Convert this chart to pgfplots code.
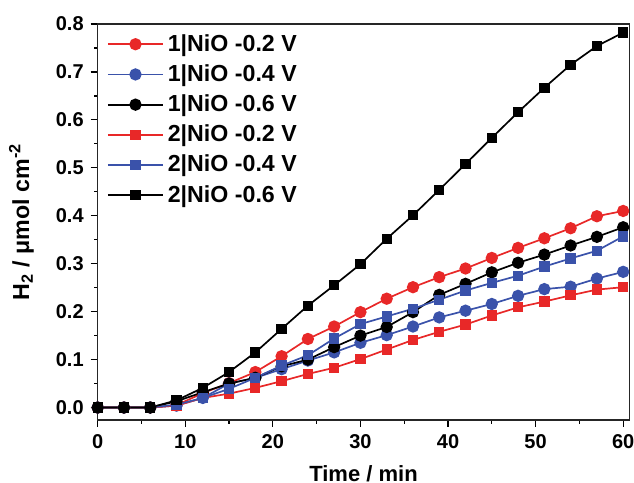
\documentclass[border=0pt]{standalone}
\usepackage{fontspec}
\setmainfont{Liberation Sans}
\usepackage{pgfplots}
\pgfplotsset{compat=1.18}
\definecolor{myred}{RGB}{232,40,40}
\definecolor{myblue}{RGB}{58,82,170}
\begin{document}
\begin{tikzpicture}
\begin{axis}[
    scale only axis,
    width=265.8pt, height=198pt,
    xmin=0, xmax=60.7,
    ymin=-0.026, ymax=0.8,
    xtick={0,10,20,30,40,50,60},
    ytick={0,0.1,0.2,0.3,0.4,0.5,0.6,0.7,0.8},
    minor x tick num=1, minor y tick num=1,
    xtick pos=bottom, ytick pos=left,
    tick align=outside,
    major tick length=3.5pt, minor tick length=1.8pt,
    tick style={line width=0.6pt, black},
    axis line style={line width=0.7pt, black!85},
    /pgf/number format/assume math mode=true,
    yticklabel style={/pgf/number format/fixed, /pgf/number format/fixed zerofill, /pgf/number format/precision=1},
    ticklabel style={font=\bfseries\fontsize{10}{12}\selectfont},
    xlabel={Time / min},
    ylabel={H\textsubscript{2} / μmol cm\textsuperscript{-2}},
    xlabel style={font=\bfseries\fontsize{11}{13}\selectfont, at={(axis description cs:0.5,0)},
        anchor=north, inner sep=0pt, yshift=-22.4pt},
    ylabel style={font=\bfseries\fontsize{11.6}{13}\selectfont, at={(axis description cs:0,0.5)},
        anchor=center, inner sep=0pt, yshift=38.1pt},
    legend style={draw=none, fill=none, at={(axis description cs:0.017,0.985)}, anchor=north west,
        font=\bfseries\fontsize{11.6}{13}\selectfont, row sep=1.2pt, inner sep=0pt},
    legend cell align=left,
    legend image code/.code={\draw[mark repeat=2,mark phase=2,#1] plot coordinates {(0pt,0pt) (13.75pt,0pt) (27.5pt,0pt)};},
    every axis plot/.append style={line width=0.85pt},
]
\addplot[myred, mark=*, mark size=2.65pt, mark options={fill=myred}] coordinates {
(0,0) (3,0) (6,0) (9,0.005) (12,0.03) (15,0.051) (18,0.074) (21,0.107) (24,0.143) (27,0.169) (30,0.199)
(33,0.227) (36,0.251) (39,0.272) (42,0.29) (45,0.312) (48,0.333) (51,0.353) (54,0.374) (57,0.399) (60,0.41)};
\addlegendentry{1|NiO -0.2 V}
\addplot[myblue, mark=*, mark size=2.65pt, mark options={fill=myblue}] coordinates {
(0,0) (3,0) (6,0) (9,0.004) (12,0.02) (15,0.05) (18,0.062) (21,0.08) (24,0.098) (27,0.115) (30,0.135)
(33,0.151) (36,0.169) (39,0.188) (42,0.202) (45,0.216) (48,0.233) (51,0.247) (54,0.252) (57,0.269) (60,0.283)};
\addlegendentry{1|NiO -0.4 V}
\addplot[black, mark=*, mark size=2.65pt, mark options={fill=black}] coordinates {
(0,0) (3,0) (6,0) (9,0.013) (12,0.032) (15,0.05) (18,0.062) (21,0.086) (24,0.1) (27,0.126) (30,0.15)
(33,0.168) (36,0.199) (39,0.235) (42,0.258) (45,0.282) (48,0.302) (51,0.319) (54,0.338) (57,0.356) (60,0.376)};
\addlegendentry{1|NiO -0.6 V}
\addplot[myred, mark=square*, mark size=2.15pt, mark options={fill=myred}] coordinates {
(0,0) (3,0) (6,0) (9,0.004) (12,0.02) (15,0.029) (18,0.041) (21,0.055) (24,0.07) (27,0.083) (30,0.101)
(33,0.121) (36,0.141) (39,0.158) (42,0.173) (45,0.192) (48,0.209) (51,0.221) (54,0.234) (57,0.246) (60,0.251)};
\addlegendentry{2|NiO -0.2 V}
\addplot[myblue, mark=square*, mark size=2.15pt, mark options={fill=myblue}] coordinates {
(0,0) (3,0) (6,0) (9,0.006) (12,0.02) (15,0.039) (18,0.062) (21,0.0875) (24,0.109) (27,0.144) (30,0.174)
(33,0.19) (36,0.206) (39,0.225) (42,0.244) (45,0.26) (48,0.275) (51,0.294) (54,0.311) (57,0.327) (60,0.357)};
\addlegendentry{2|NiO -0.4 V}
\addplot[black, mark=square*, mark size=2.15pt, mark options={fill=black}] coordinates {
(0,0) (3,0) (6,0) (9,0.015) (12,0.041) (15,0.074) (18,0.115) (21,0.164) (24,0.2125) (27,0.255) (30,0.299)
(33,0.352) (36,0.401) (39,0.454) (42,0.508) (45,0.5625) (48,0.616) (51,0.667) (54,0.715) (57,0.754) (60,0.782)};
\addlegendentry{2|NiO -0.6 V}
\end{axis}
\pgfresetboundingbox
\path[use as bounding box] ([shift={(-48.85pt,-31.5pt)}]current axis.south west) rectangle ([shift={(2.35pt,12pt)}]current axis.north east);
\end{tikzpicture}
\end{document}
